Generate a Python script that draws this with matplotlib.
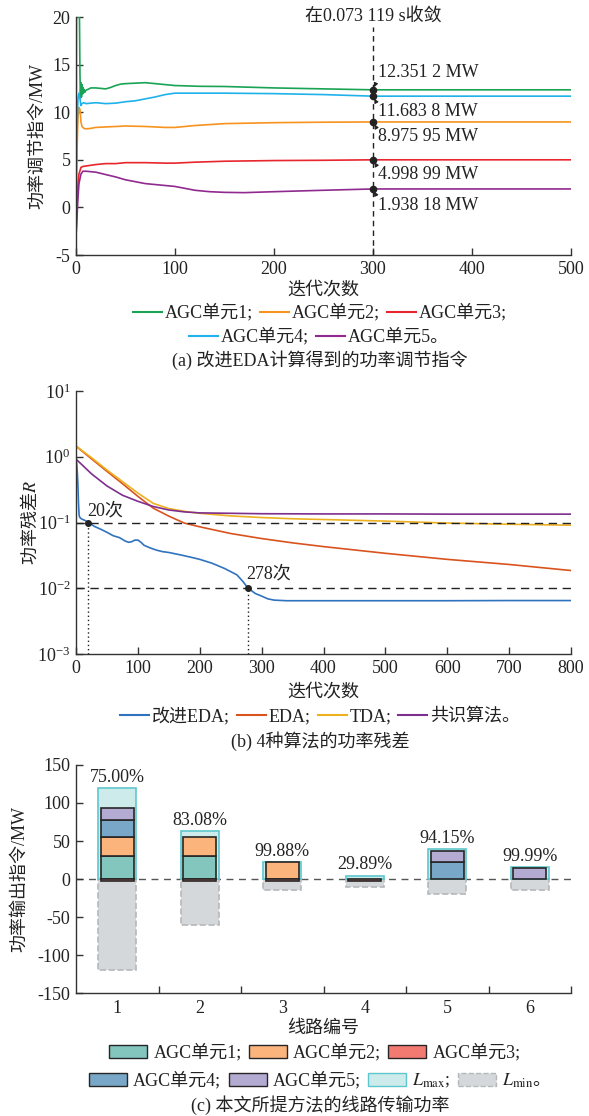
import matplotlib
matplotlib.use('Agg')
import matplotlib.pyplot as plt
import numpy as np
from matplotlib.patches import Patch
from matplotlib.lines import Line2D
from matplotlib.ticker import FixedLocator, NullLocator, LogFormatterSciNotation

plt.rcParams['font.family'] = ['Liberation Serif', 'Noto Sans CJK SC']
plt.rcParams['mathtext.fontset'] = 'stix'
plt.rcParams['axes.unicode_minus'] = False
plt.rcParams['font.size'] = 13
TXT = '#222222'
plt.rcParams['text.color'] = TXT
plt.rcParams['axes.labelcolor'] = TXT
plt.rcParams['xtick.color'] = '#333333'
plt.rcParams['ytick.color'] = '#333333'
plt.rcParams['xtick.labelcolor'] = TXT
plt.rcParams['ytick.labelcolor'] = TXT

# ---------------- data: panel (a) ----------------
agc1_x = [0, 0.5, 3.5, 4, 4.5, 5, 5.5, 6, 6.5, 7, 7.5, 8, 9, 10, 12, 15, 20, 25, 30, 35, 40, 45, 50, 60, 70, 80, 90, 100, 125, 150, 200, 250, 300, 500]
agc1_y = [0, 20, 20, 14.0, 11.5, 13.1, 11.6, 12.9, 11.9, 12.6, 12.0, 12.4, 12.1, 12.3, 12.4, 12.55, 12.55, 12.5, 12.45, 12.6, 12.8, 12.95, 13.0, 13.05, 13.1, 13.0, 12.9, 12.8, 12.72, 12.7, 12.55, 12.45, 12.3512, 12.3512]
agc2_x = [0, 1, 2, 3, 4, 5, 6, 8, 10, 15, 20, 30, 50, 70, 90, 100, 120, 150, 200, 250, 300, 500]
agc2_y = [0, 6, 9.5, 10.5, 10.3, 9.0, 8.5, 8.3, 8.25, 8.3, 8.4, 8.45, 8.55, 8.5, 8.4, 8.4, 8.6, 8.8, 8.9, 8.95, 8.97595, 8.97595]
agc3_x = [0, 1, 2, 3, 5, 7, 10, 20, 30, 40, 50, 70, 90, 100, 120, 150, 200, 250, 300, 500]
agc3_y = [-3, 0, 2.5, 3.5, 4.2, 4.3, 4.35, 4.5, 4.6, 4.6, 4.7, 4.7, 4.65, 4.65, 4.75, 4.85, 4.92, 4.95, 4.99899, 4.99899]
agc4_x = [0, 1, 2, 3, 4, 5, 6, 8, 10, 20, 30, 40, 50, 60, 70, 80, 90, 100, 150, 200, 250, 300, 500]
agc4_y = [0, 8, 11.5, 12.0, 11.4, 10.7, 10.9, 11.0, 10.9, 11.0, 10.9, 10.95, 11.1, 11.2, 11.4, 11.6, 11.85, 12.0, 12.0, 11.95, 11.85, 11.6838, 11.6838]
agc5_x = [0, 1, 2, 3, 5, 7, 10, 20, 30, 40, 50, 60, 70, 80, 90, 100, 110, 120, 135, 150, 170, 200, 250, 300, 500]
agc5_y = [-3.1, -1, 1, 2.5, 3.5, 3.8, 3.8, 3.7, 3.45, 3.2, 2.9, 2.7, 2.5, 2.4, 2.3, 2.2, 2.0, 1.8, 1.65, 1.58, 1.55, 1.65, 1.8, 1.93818, 1.93818]
unit_labels_a = ['AGC单元1;', 'AGC单元2;', 'AGC单元3;', 'AGC单元4;', 'AGC单元5。']
conv_iter = 300
conv_vals = [12.3512, 11.6838, 8.97595, 4.99899, 1.93818]
conv_texts = ['12.351 2 MW', '11.683 8 MW', '8.975 95 MW', '4.998 99 MW', '1.938 18 MW']
conv_title = '在0.073 119 s收敛'

# ---------------- data: panel (b) ----------------
ieda_x = [0, 1, 2, 3, 4, 5, 6, 8, 10, 15, 20, 30, 40, 50, 60, 70, 80, 85, 90, 95, 100, 105, 110, 120, 130, 140, 150, 170, 190, 200, 220, 240, 260, 270, 278, 290, 300, 310, 320, 340, 400, 500, 600, 700, 800]
ieda_y = [0.95, 0.8, 0.6, 0.4, 0.2, 0.13, 0.12, 0.115, 0.112, 0.107, 0.1, 0.087, 0.079, 0.071, 0.063, 0.059, 0.052, 0.050, 0.051, 0.054, 0.054, 0.050, 0.045, 0.041, 0.038, 0.036, 0.035, 0.032, 0.029, 0.0275, 0.024, 0.020, 0.016, 0.0126, 0.0100, 0.0083, 0.0076, 0.0069, 0.0066, 0.00646, 0.00646, 0.00646, 0.00646, 0.0065, 0.0065]
eda_x = [0, 25, 50, 75, 100, 125, 150, 175, 200, 250, 300, 350, 400, 500, 600, 700, 800]
eda_y = [1.45, 0.93, 0.6, 0.39, 0.25, 0.165, 0.125, 0.098, 0.086, 0.068, 0.057, 0.049, 0.043, 0.034, 0.0275, 0.023, 0.0186]
tda_x = [0, 25, 50, 75, 100, 125, 150, 175, 200, 250, 300, 350, 400, 500, 600, 700, 800]
tda_y = [1.46, 0.97, 0.63, 0.42, 0.28, 0.195, 0.163, 0.148, 0.138, 0.126, 0.119, 0.114, 0.111, 0.105, 0.098, 0.094, 0.091]
cons_x = [0, 10, 25, 50, 75, 100, 125, 150, 175, 200, 300, 400, 500, 600, 700, 800]
cons_y = [0.92, 0.75, 0.55, 0.36, 0.26, 0.21, 0.175, 0.155, 0.145, 0.14, 0.136, 0.135, 0.135, 0.134, 0.134, 0.134]
algo_labels = ['改进EDA;', 'EDA;', 'TDA;', '共识算法。']
thresholds = [0.1, 0.01]
hit_iters = [20, 278]
hit_texts = ['20次', '278次']

# ---------------- data: panel (c) ----------------
lines_no = [1, 2, 3, 4, 5, 6]
c_agc1 = [30, 30, 0, 0, 0, 0]
c_agc2 = [25, 25.5, 22, 0, 0, 0]
c_agc3 = [-3, -3, -3, -3, 0, 0]
c_agc4 = [23, 0, 0, 0, 22.5, 0]
c_agc5 = [15, 0, 0, 0, 15, 15]
l_max = [120, 63, 22.5, 4.5, 40, 15.5]
l_min = [-120, -60, -15, -10, -20, -15]
pct_texts = ['75.00%', '83.08%', '99.88%', '29.89%', '94.15%', '99.99%']
unit_labels_c = ['AGC单元1;', 'AGC单元2;', 'AGC单元3;', 'AGC单元4;', 'AGC单元5;', '$L_{\\mathrm{max}}$;', '$L_{\\mathrm{min}}$。']

# ---------------- figure ----------------
W, H = 589, 1116
fig = plt.figure(figsize=(W / 100, H / 100), dpi=100)


def rect(left, top, right, bottom):
    return [left / W, 1 - bottom / H, (right - left) / W, (bottom - top) / H]


def style_axes(ax):
    for s in ['top', 'right']:
        ax.spines[s].set_visible(False)
    for s in ['left', 'bottom']:
        ax.spines[s].set_color('#333333')
        ax.spines[s].set_linewidth(1.0)
    ax.tick_params(direction='in', length=5, width=1.0, pad=4)


# ---------- (a) ----------
axa = fig.add_axes(rect(76, 17, 571, 255))
style_axes(axa)
cols_a = ['#1aa354', '#f7931e', '#e8262d', '#1fb2ea', '#902a8e']
series_a = [(agc1_x, agc1_y), (agc2_x, agc2_y), (agc3_x, agc3_y), (agc4_x, agc4_y), (agc5_x, agc5_y)]
for (xs, ys), c in zip(series_a, cols_a):
    axa.plot(xs, ys, color=c, lw=1.2)
axa.set_xlim(0, 500)
axa.set_ylim(-5, 20)
axa.set_xticks(range(0, 501, 100))
axa.set_yticks(range(-5, 21, 5))
axa.plot([conv_iter, conv_iter], [-5, 18.9], color='#222222', lw=1.0, ls=(0, (4, 3)))
axa.text(conv_iter, 20.05, conv_title, ha='center', va='center', clip_on=False)
text_y = [14.2, 10.07, 7.43, 3.5, 0.24]
for v, t, ty in zip(conv_vals, conv_texts, text_y):
    axa.plot([conv_iter], [v], 'o', color='#222222', ms=4.5, zorder=5)
    rel = (0.0, 0.15) if ty > v else (0.0, 0.85)
    axa.annotate(t, xy=(conv_iter, v), xytext=(conv_iter + 5, ty), ha='left', va='center',
                 arrowprops=dict(arrowstyle='-|>', color='#222222', lw=0.8, mutation_scale=6,
                                 shrinkA=0, shrinkB=2, relpos=rel))
axa.set_xlabel('迭代次数', va='center')
axa.xaxis.set_label_coords(0.5, -0.147)
axa.set_ylabel('功率调节指令/MW', va='center')
axa.yaxis.set_label_coords(-0.0768, 0.5)

hand_a = [Line2D([], [], color=c, lw=1.5) for c in cols_a]
kw_leg = dict(frameon=False, handletextpad=0.15, columnspacing=0.4, borderpad=0, borderaxespad=0, loc='center')
fig.legend(hand_a[:3], unit_labels_a[:3], ncol=3, bbox_to_anchor=(320 / W, 1 - 313 / H), handlelength=1.6, **kw_leg)
fig.legend(hand_a[3:], unit_labels_a[3:], ncol=2, bbox_to_anchor=(319 / W, 1 - 337 / H), handlelength=1.6, **kw_leg)
fig.text(320 / W, 1 - 360 / H, '(a) 改进EDA计算得到的功率调节指令', ha='center', va='center')

# ---------- (b) ----------
axb = fig.add_axes(rect(76, 391, 571, 654))
style_axes(axb)
cols_b = ['#2f73bf', '#d9531e', '#edb120', '#7e2f8e']
series_b = [(ieda_x, ieda_y), (eda_x, eda_y), (tda_x, tda_y), (cons_x, cons_y)]
for (xs, ys), c in zip(series_b, cols_b):
    axb.plot(xs, ys, color=c, lw=1.2)
axb.set_yscale('log')
axb.set_xlim(0, 800)
axb.set_ylim(1e-3, 10)
axb.set_xticks(range(0, 801, 100))
axb.yaxis.set_major_locator(FixedLocator([1e-3, 1e-2, 1e-1, 1e0, 1e1]))
axb.yaxis.set_major_formatter(LogFormatterSciNotation())
axb.yaxis.set_minor_locator(NullLocator())
axb.tick_params(direction='in', length=5, width=1.0, pad=4)
for th in thresholds:
    axb.plot([0, 800], [th, th], color='#222222', lw=1.0, ls=(0, (6, 4)), zorder=3)
offs = [8, 10]
for it, th, t, o in zip(hit_iters, thresholds, hit_texts, offs):
    axb.plot([it, it], [1e-3, th], color='#222222', lw=1.0, ls=(0, (1, 2)), zorder=3)
    axb.plot([it], [th], 'o', color='#222222', ms=4, zorder=5)
    axb.annotate(t, xy=(it, th), xytext=(-1, o), textcoords='offset points', ha='left', va='center')
axb.set_xlabel('迭代次数', va='center')
axb.xaxis.set_label_coords(0.5, -0.1445)
axb.set_ylabel('功率残差$R$', va='center', fontfamily='Noto Sans CJK SC')
axb.yaxis.set_label_coords(-0.093, 0.5)
hand_b = [Line2D([], [], color=c, lw=1.5) for c in cols_b]
fig.legend(hand_b, algo_labels, ncol=4, bbox_to_anchor=(320 / W, 1 - 716 / H), handlelength=1.6, **kw_leg)
fig.text(320 / W, 1 - 741 / H, '(b) 4种算法的功率残差', ha='center', va='center')

# ---------- (c) ----------
axc = fig.add_axes(rect(76, 765, 571, 993))
style_axes(axc)
lmin_fc, lmin_ec = '#d5d8da', '#b5b8ba'
lmax_fc, lmax_ec = '#cdebeb', '#5ec7cd'
cols_c = ['#82c6bd', '#fbb47c', '#f27a70', '#79a7c7', '#b3abd1']
axc.axhline(0, color='#555555', lw=1.0, ls=(0, (5, 4)), zorder=0.5)
axc.bar(lines_no, l_min, width=0.46, color=lmin_fc, edgecolor=lmin_ec, lw=1.2, ls='--', zorder=1)
axc.bar(lines_no, l_max, width=0.46, color=lmax_fc, edgecolor=lmax_ec, lw=1.2, zorder=1)
pos_b = np.zeros(len(lines_no))
neg_b = np.zeros(len(lines_no))
xs_c = np.array(lines_no, float)
for vals, c in zip([c_agc1, c_agc2, c_agc3, c_agc4, c_agc5], cols_c):
    v = np.array(vals, float)
    bottom = np.where(v >= 0, pos_b, neg_b)
    m = v != 0
    axc.bar(xs_c[m], v[m], bottom=bottom[m], width=0.40, color=c, edgecolor='#262626', lw=1.2, zorder=2)
    pos_b += np.clip(v, 0, None)
    neg_b += np.clip(v, None, 0)
for x, lm, t in zip(lines_no, l_max, pct_texts):
    axc.annotate(t, xy=(x, lm), xytext=(0, 1.5), textcoords='offset points', ha='center', va='bottom')
axc.set_xlim(0.5, 6.5)
axc.set_ylim(-150, 150)
axc.set_yticks(range(-150, 151, 50))
axc.set_xticks(lines_no)
axc.set_xticks([1.5, 2.5, 3.5, 4.5, 5.5, 6.5], minor=True)
axc.tick_params(axis='x', which='major', length=0, pad=5)
axc.tick_params(axis='x', which='minor', direction='in', length=5, width=1.0)
axc.set_xlabel('线路编号', va='center')
axc.xaxis.set_label_coords(0.5, -0.1535)
axc.set_ylabel('功率输出指令/MW', va='center')
axc.yaxis.set_label_coords(-0.113, 0.5)

hand_c = [Patch(facecolor=c, edgecolor='#262626', lw=1.0) for c in cols_c]
hand_c.append(Patch(facecolor=lmax_fc, edgecolor=lmax_ec, lw=1.0))
hand_c.append(Patch(facecolor=lmin_fc, edgecolor=lmin_ec, lw=1.0, ls='--'))
kw_c = dict(frameon=False, handletextpad=0.35, columnspacing=0.4, borderpad=0, borderaxespad=0,
            loc='center', handlelength=2.1, handleheight=0.8)
fig.legend(hand_c[:3], unit_labels_c[:3], ncol=3, bbox_to_anchor=(315 / W, 1 - 1053 / H), **kw_c)
leg_c2 = fig.legend(hand_c[3:], unit_labels_c[3:], ncol=4, bbox_to_anchor=(315 / W, 1 - 1081 / H), **kw_c)
leg_c2.get_texts()[-1].set_fontfamily(['Noto Sans CJK SC'])
fig.text(320 / W, 1 - 1105 / H, '(c) 本文所提方法的线路传输功率', ha='center', va='center')

fig.savefig('out.png', dpi=100)
